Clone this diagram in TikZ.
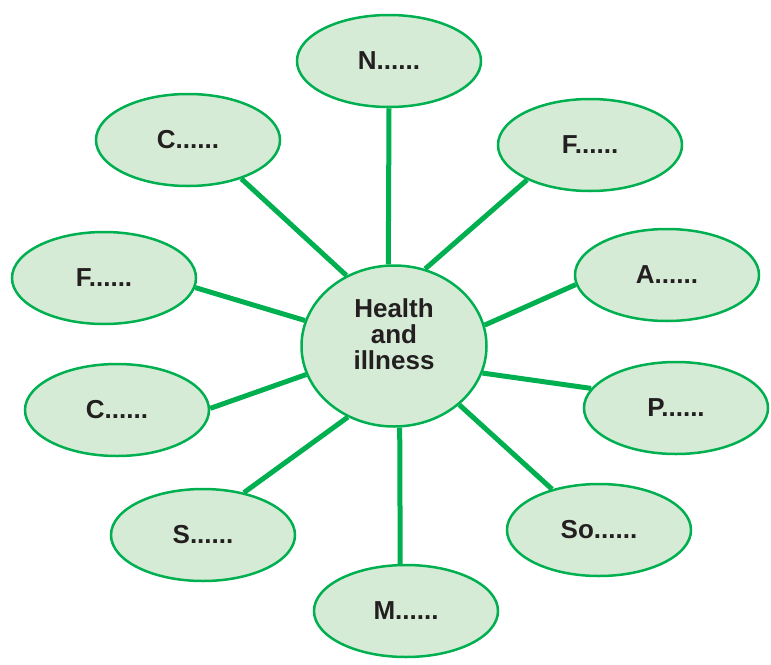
\documentclass[tikz,border=0pt]{standalone}
\usepackage{fontspec}
\setmainfont{Liberation Sans}
\usetikzlibrary{shapes.geometric}

\definecolor{leaf}{RGB}{0,176,80}
\definecolor{mint}{RGB}{214,235,214}
\definecolor{ink}{RGB}{35,31,32}

\begin{document}
\begin{tikzpicture}[x=1pt, y=1pt,
  every node/.style={draw=leaf, line width=2.5pt, fill=mint, ellipse, align=center, inner sep=0pt, text=ink, font=\fontsize{26}{26}\selectfont\bfseries},
  blob/.style={minimum width=184pt, minimum height=92pt},
  link/.style={draw=leaf, line width=5pt}]
\useasboundingbox (0,0) rectangle (771,-664);

\node (hub) [minimum width=185pt, minimum height=161pt, text depth=24pt] at (394,-346) {Health\\and\\illness};

\node (nn) [blob] at (389,-61) {N......};
\node (fr) [blob] at (590,-145) {F......};
\node (aa) [blob] at (667,-275) {A......};
\node (pp) [blob] at (676,-408) {P......};
\node (so) [blob] at (599,-530) {So......};
\node (mm) [blob] at (406,-611) {M......};
\node (ss) [blob] at (203,-535) {S......};
\node (cl) [blob] at (117,-410) {C......};
\node (fl) [blob] at (104,-278) {F......};
\node (ct) [blob] at (188,-140) {C......};

\draw[link] (hub.94) -- (nn.270);
\draw[link] (hub.68) -- (fr.209);
\draw[link] (hub.13) -- (aa.186);
\draw[link] (hub.-17) -- (pp.167);
\draw[link] (hub.-42) -- (so.139);
\draw[link] (hub.-86) -- (mm.97);
\draw[link] (hub.237) -- (ss.46);
\draw[link] (hub.198) -- (cl.1);
\draw[link] (hub.164) -- (fl.-6);
\draw[link] (hub.124) -- (ct.-36);

\end{tikzpicture}
\end{document}
